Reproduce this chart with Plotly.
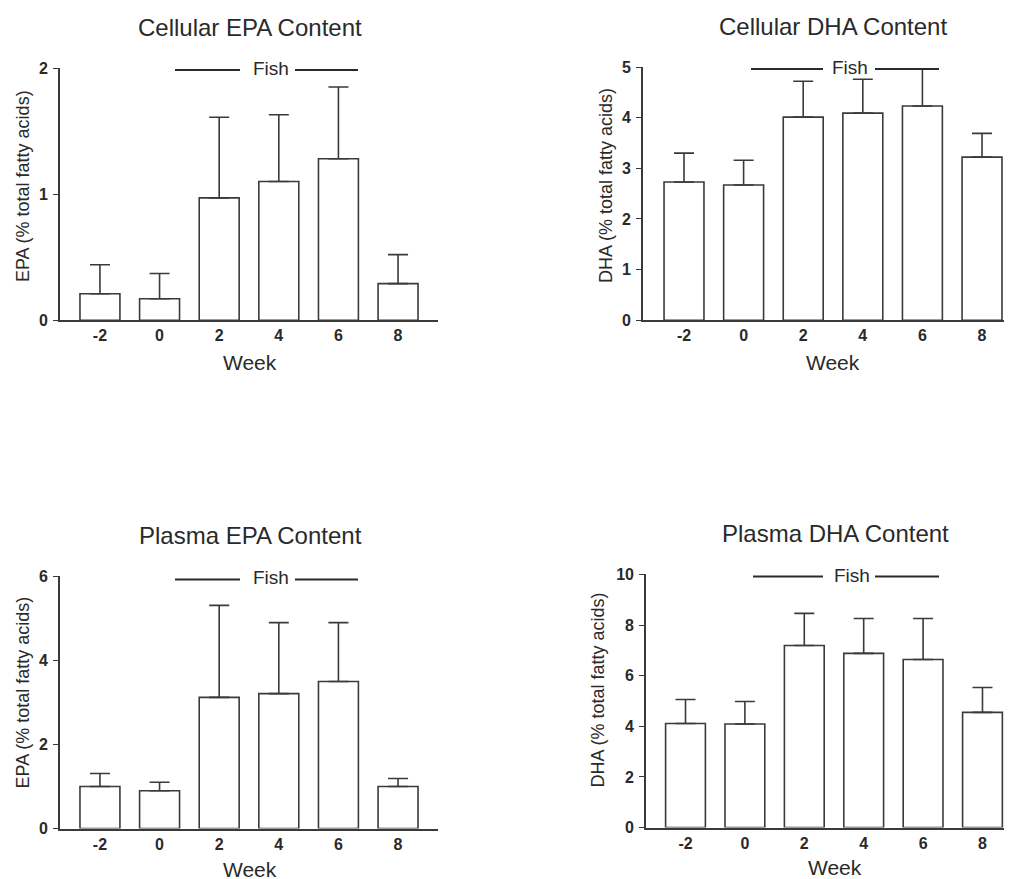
import plotly.graph_objects as go

# measured page placement: picture_x = 8 + x_fig, picture_y = 16 + 0.98 * y_fig
OX, OY, SY = 8, 16, 0.98
FW, FH = 1004, 879

weeks = ["-2", "0", "2", "4", "6", "8"]

cell_epa = [0.21, 0.17, 0.97, 1.10, 1.28, 0.29]
cell_epa_err = [0.23, 0.20, 0.64, 0.53, 0.57, 0.23]

cell_dha = [2.73, 2.67, 4.01, 4.09, 4.23, 3.22]
cell_dha_err = [0.57, 0.49, 0.71, 0.67, 0.73, 0.47]

plasma_epa = [1.00, 0.90, 3.12, 3.21, 3.50, 1.00]
plasma_epa_err = [0.31, 0.20, 2.19, 1.69, 1.40, 0.19]

plasma_dha = [4.11, 4.09, 7.19, 6.88, 6.64, 4.55]
plasma_dha_err = [0.95, 0.89, 1.27, 1.38, 1.62, 0.98]

titles = ["Cellular EPA Content", "Cellular DHA Content", "Plasma EPA Content", "Plasma DHA Content"]
ytitles = ["EPA (% total fatty acids)", "DHA (% total fatty acids)",
           "EPA (% total fatty acids)", "DHA (% total fatty acids)"]

FONT = "Liberation Sans, Arial, sans-serif"
INK = "#2a2a2a"
LINE = "#3a3a3a"


def px(x):
    return min(1.0, (x - OX) / FW)


def py(y):
    return 1 - ((y - OY) / SY) / FH


panels = [
    dict(means=cell_epa, errs=cell_epa_err, xdom=(60, 438), ydom=(68, 320), xr=(-0.67, 5.67),
         yr=(0, 2), dtick=1, title=(250, 27), week=(250, 362), ytit=(23, 186),
         fish=((175, 240), (295, 358), 70, 271, 68)),
    dict(means=cell_dha, errs=cell_dha_err, xdom=(643, 1012), ydom=(67, 320), xr=(-0.688, 5.503),
         yr=(0, 5), dtick=1, title=(833, 26), week=(833, 362), ytit=(606, 186),
         fish=((751, 823), (875, 939), 69, 850, 67)),
    dict(means=plasma_epa, errs=plasma_epa_err, xdom=(60, 438), ydom=(576, 828), xr=(-0.67, 5.67),
         yr=(0, 6), dtick=2, title=(250, 535), week=(250, 869), ytit=(23, 692),
         fish=((175, 240), (295, 358), 579, 271, 577)),
    dict(means=plasma_dha, errs=plasma_dha_err, xdom=(646, 1012), ydom=(574, 827), xr=(-0.665, 5.497),
         yr=(0, 10), dtick=2, title=(835, 533), week=(835, 867), ytit=(598, 690),
         fish=((753, 823), (875, 939), 576, 852, 575)),
]

fig = go.Figure()
layout = dict(width=FW, height=FH, autosize=False, margin=dict(l=0, r=0, t=0, b=0),
              paper_bgcolor="white", plot_bgcolor="white", showlegend=False,
              font=dict(family=FONT, color=INK))
annotations = []
shapes = []

for i, p in enumerate(panels):
    n = "" if i == 0 else str(i + 1)
    xa, ya = "x" + n, "y" + n
    fig.add_trace(go.Bar(
        x=list(range(len(weeks))), y=p["means"], width=0.67,
        marker=dict(color="white", line=dict(color=LINE, width=1.6)),
        error_y=dict(type="data", symmetric=False, array=p["errs"],
                     arrayminus=[0] * len(weeks), color=LINE, thickness=1.6, width=10),
        xaxis=xa, yaxis=ya, hoverinfo="skip"))
    layout["xaxis" + n] = dict(
        domain=[px(p["xdom"][0]), px(p["xdom"][1])], range=list(p["xr"]), anchor=ya,
        tickmode="array", tickvals=list(range(len(weeks))), ticktext=weeks,
        showgrid=False, zeroline=False, showline=True, linecolor=LINE, linewidth=1.6,
        ticks="", ticklabelstandoff=0,
        tickfont=dict(family=FONT, size=16, color=INK, weight="bold"), fixedrange=True)
    layout["yaxis" + n] = dict(
        domain=[py(p["ydom"][1]), py(p["ydom"][0])], range=list(p["yr"]), anchor=xa,
        tick0=0, dtick=p["dtick"], showgrid=False, zeroline=False, showline=True,
        linecolor=LINE, linewidth=1.6, ticks="outside", ticklen=5, tickwidth=1.4,
        tickcolor=LINE, ticklabelstandoff=2,
        tickfont=dict(family=FONT, size=16, color=INK, weight="bold"), fixedrange=True)

    annotations.append(dict(text=titles[i], x=px(p["title"][0]), y=py(p["title"][1]),
                            xref="paper", yref="paper", showarrow=False,
                            xanchor="center", yanchor="middle",
                            font=dict(family=FONT, size=24, color=INK)))
    annotations.append(dict(text="Week", x=px(p["week"][0]), y=py(p["week"][1]),
                            xref="paper", yref="paper", showarrow=False,
                            xanchor="center", yanchor="middle",
                            font=dict(family=FONT, size=21, color=INK)))
    annotations.append(dict(text=ytitles[i], x=px(p["ytit"][0]), y=py(p["ytit"][1]),
                            xref="paper", yref="paper", showarrow=False, textangle=-90,
                            xanchor="center", yanchor="middle",
                            font=dict(family=FONT, size=18, color=INK)))
    (l1, l2, fy, tx, ty) = p["fish"]
    for seg in (l1, l2):
        shapes.append(dict(type="line", xref="paper", yref="paper",
                           x0=px(seg[0]), x1=px(seg[1]), y0=py(fy), y1=py(fy),
                           line=dict(color=INK, width=2)))
    annotations.append(dict(text="Fish", x=px(tx), y=py(ty), xref="paper", yref="paper",
                            showarrow=False, xanchor="center", yanchor="middle",
                            font=dict(family=FONT, size=19, color=INK)))

layout["annotations"] = annotations
layout["shapes"] = shapes
fig.update_layout(**layout)
fig.write_html("out.html")
